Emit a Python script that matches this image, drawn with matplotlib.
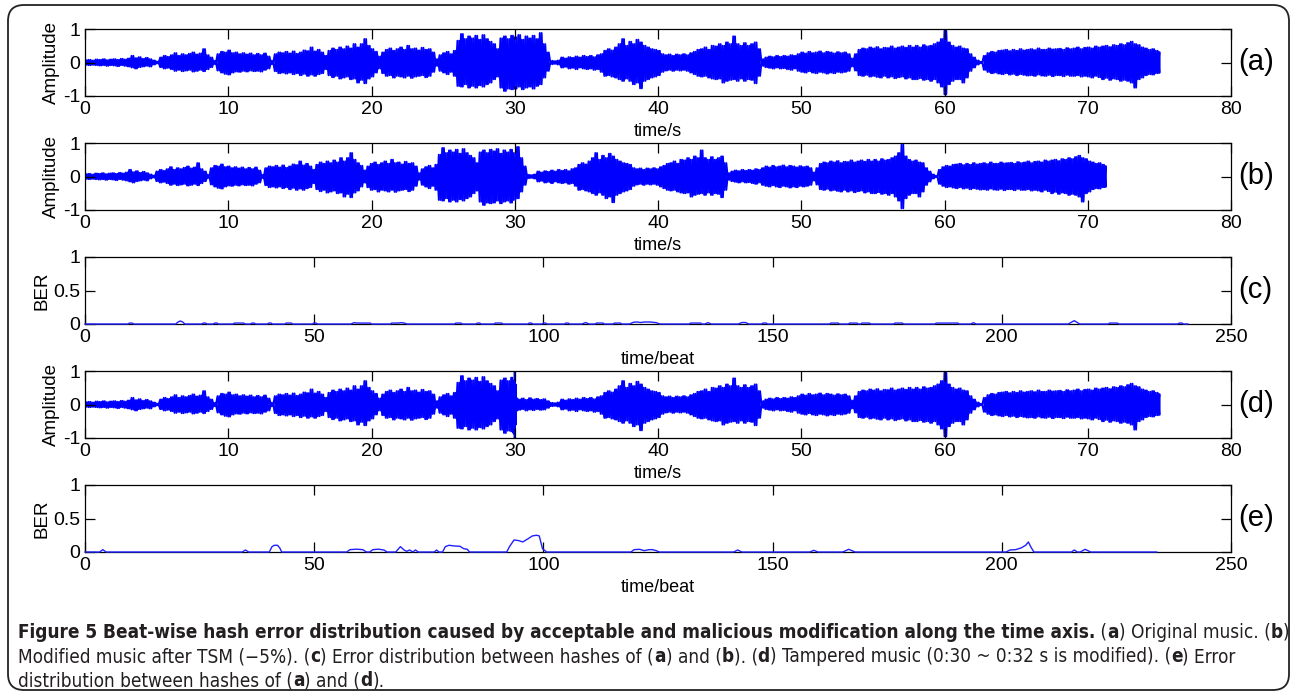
import numpy as np
import matplotlib
matplotlib.use("Agg")
import matplotlib.pyplot as plt
from matplotlib import font_manager
from matplotlib.patches import FancyBboxPatch
from matplotlib.transforms import IdentityTransform

# ---------------- data ----------------
# (a) original music: envelope sampled every 0.25 s from 0 to 75 s (upper / lower peaks)
wave_a_dt = 0.25
wave_a_hi = [
    .07, .08, .06, .09,  .08, .10, .07, .09,  .10, .08, .11, .09,  .12, .20, .13, .16,  .11, .14, .10, .06,
    .03, .15, .20, .17,  .22, .28, .20, .25,  .22, .26, .30, .24,  .27, .40, .22, .15,  .05, .25, .32, .30,
    .36, .28, .30, .25,  .28, .24, .27, .22,  .26, .22, .27, .18,  .05, .25, .30, .28,  .32, .27, .33, .26,
    .30, .36, .34, .45,  .33, .38, .30, .20,  .35, .42, .38, .45,  .40, .48, .42, .55,  .45, .55, .70, .50,
    .40, .32, .18, .30,  .38, .42, .35, .40,  .45, .38, .50, .40,  .42, .36, .44, .38,  .40, .30, .10, .22,
    .28, .32, .25, .35,  .65, .85, .70, .78,  .72, .80, .68, .82,  .70, .62, .55, .40,  .72, .78, .70, .80,
    .75, .82, .68, .78,  .72, .80, .70, .88,  .55, .30, .05, .04,  .06, .15, .12, .16,  .14, .18, .15, .20,
    .17, .20, .16, .22,  .25, .35, .40, .36,  .45, .55, .70, .50,  .62, .55, .68, .60,  .50, .45, .40, .38,
    .35, .25, .22, .24,  .20, .24, .22, .25,  .22, .28, .32, .38,  .40, .45, .38, .50,  .48, .55, .50, .60,
    .55, .78, .55, .50,  .58, .50, .55, .60,  .40, .10, .15, .18,  .16, .20, .17, .20,  .18, .22, .20, .25,
    .30, .27, .32, .28,  .30, .33, .28, .32,  .30, .27, .31, .28,  .30, .25, .12, .25,  .38, .42, .40, .45,
    .42, .46, .40, .44,  .43, .48, .42, .45,  .48, .44, .50, .45,  .50, .45, .52, .48,  .50, .55, .60, .70,
    .95, .60, .50, .45,  .48, .42, .40, .25,  .15, .06, .02, .20,  .28, .32, .30, .35,  .36, .38, .34, .38,
    .35, .40, .36, .38,  .40, .37, .42, .38,  .38, .42, .39, .40,  .41, .38, .43, .40,  .42, .45, .40, .44,
    .45, .42, .48, .45,  .48, .50, .46, .52,  .50, .55, .52, .58,  .62, .55, .52, .45,  .42, .38, .40, .35,
    .30]
wave_a_lo = [
    -.07, -.08, -.07, -.08,  -.09, -.08, -.10, -.08,  -.09, -.11, -.08, -.10,  -.12, -.15, -.18, -.14,  -.12, -.10, -.12, -.06,
    -.03, -.14, -.18, -.16,  -.20, -.25, -.22, -.26,  -.24, -.22, -.27, -.25,  -.22, -.26, -.20, -.14,  -.05, -.24, -.30, -.34,
    -.36, -.30, -.27, -.28,  -.25, -.27, -.24, -.26,  -.25, -.27, -.22, -.18,  -.05, -.26, -.32, -.30,  -.33, -.30, -.35, -.32,
    -.38, -.34, -.40, -.36,  -.40, -.35, -.32, -.20,  -.38, -.44, -.40, -.48,  -.45, -.42, -.50, -.48,  -.60, -.52, -.62, -.48,
    -.42, -.30, -.18, -.32,  -.40, -.38, -.45, -.40,  -.42, -.45, -.40, -.46,  -.42, -.40, -.38, -.44,  -.40, -.28, -.10, -.25,
    -.30, -.35, -.28, -.40,  -.70, -.72, -.65, -.75,  -.70, -.75, -.68, -.72,  -.65, -.60, -.50, -.42,  -.75, -.85, -.78, -.80,
    -.78, -.72, -.80, -.75,  -.72, -.78, -.70, -.65,  -.45, -.25, -.05, -.04,  -.06, -.15, -.13, -.18,  -.16, -.20, -.15, -.18,
    -.20, -.18, -.22, -.20,  -.28, -.40, -.38, -.42,  -.45, -.50, -.55, -.48,  -.55, -.65, -.60, -.77,  -.55, -.50, -.45, -.42,
    -.38, -.28, -.24, -.22,  -.25, -.22, -.24, -.22,  -.25, -.30, -.35, -.40,  -.42, -.40, -.45, -.48,  -.50, -.48, -.60, -.55,
    -.52, -.50, -.55, -.48,  -.55, -.50, -.52, -.62,  -.40, -.10, -.14, -.16,  -.18, -.15, -.18, -.17,  -.20, -.22, -.18, -.25,
    -.28, -.30, -.26, -.30,  -.32, -.28, -.30, -.33,  -.30, -.32, -.28, -.30,  -.28, -.25, -.12, -.24,  -.38, -.40, -.37, -.42,
    -.40, -.43, -.45, -.40,  -.45, -.42, -.47, -.44,  -.42, -.48, -.45, -.50,  -.50, -.47, -.52, -.50,  -.55, -.50, -.60, -.72,
    -.95, -.65, -.55, -.50,  -.50, -.60, -.45, -.25,  -.15, -.06, -.02, -.22,  -.28, -.32, -.30, -.33,  -.35, -.32, -.36, -.34,
    -.38, -.35, -.37, -.39,  -.38, -.40, -.36, -.39,  -.40, -.37, -.41, -.38,  -.38, -.41, -.37, -.40,  -.40, -.38, -.42, -.40,
    -.42, -.45, -.40, -.44,  -.50, -.46, -.52, -.48,  -.50, -.55, -.52, -.55,  -.60, -.75, -.50, -.45,  -.38, -.35, -.36, -.32,
    -.30]

# (b) modified music after TSM (-5 %): same envelope on a time axis shortened by the TSM rate
tsm_rate = 0.95

# (d) tampered music: the segment that differs from (a) (0:30 ~ 0:32 s is modified)
tamper_t = [29.9, 29.97, 30.0, 30.03, 30.1, 30.25, 30.5, 30.75, 31.0, 31.25, 31.5, 31.75, 32.0, 32.25]
tamper_hi = [0.70, 0.72, 1.00, 0.60, 0.18, 0.15, 0.18, 0.14, 0.19, 0.15, 0.17, 0.14, 0.16, 0.10]
tamper_lo = [-0.85, -0.88, -1.00, -0.60, -0.18, -0.16, -0.14, -0.18, -0.15, -0.17, -0.14, -0.16, -0.15, -0.10]

# (c) BER between hashes of (a) and (b)
ber_c_beat = [0, 9.4, 9.7, 10.3, 10.6, 19.8, 20.3, 20.8, 21.3, 21.8, 25.5, 25.8, 26.3, 26.6, 28.0, 28.3, 28.8, 29.1,
              32.3, 32.6, 34.6, 34.9, 36.1, 36.4, 36.9, 37.2, 39.8, 40.1, 40.6, 40.9, 43.6, 43.9, 45.0, 45.3,
              49.6, 49.9, 50.4, 50.7, 58.0, 58.7, 59.4, 59.7, 62.2, 62.5, 66.6, 66.9, 68.3, 69.0, 69.7, 70.2,
              80.6, 80.9, 82.0, 82.3, 85.3, 85.6, 86.1, 86.4, 89.2, 89.5, 90.9, 91.2, 96.6, 96.9, 97.4, 97.7,
              99.7, 100.0, 100.5, 100.8, 104.6, 104.9, 105.4, 105.7, 108.4, 109.2, 110.0, 111.3, 111.6, 113.0,
              113.3, 115.2, 115.5, 116.8, 117.1, 118.8, 119.6, 120.4, 121.2, 122.0, 123.2, 124.6, 125.4,
              131.8, 132.1, 134.3, 134.6, 135.2, 135.9, 136.6, 142.5, 143.3, 144.1, 144.8, 147.6, 147.9,
              148.6, 148.9, 162.4, 162.7, 164.3, 164.6, 166.5, 166.8, 168.4, 168.7, 169.2, 169.5, 171.1,
              171.4, 176.4, 176.7, 178.3, 178.6, 185.4, 185.7, 190.4, 190.7, 193.2, 193.8, 194.4, 214.5,
              215.8, 217.0, 223.2, 223.5, 225.2, 225.5, 238.4, 238.7, 239.3, 239.6, 240.6]
ber_c_val = [0, 0, 0.014, 0.014, 0, 0, 0.03, 0.045, 0.03, 0, 0, 0.014, 0.014, 0, 0, 0.014, 0.014, 0,
             0, 0.014, 0.014, 0, 0, 0.014, 0.014, 0, 0, 0.014, 0.014, 0, 0, 0.014, 0.014, 0,
             0, 0.014, 0.014, 0, 0, 0.02, 0.014, 0.014, 0.014, 0, 0, 0.014, 0.014, 0.02, 0.014, 0,
             0, 0.014, 0.014, 0, 0, 0.014, 0.014, 0, 0, 0.014, 0.014, 0, 0, 0.014, 0.014, 0,
             0, 0.014, 0.014, 0, 0, 0.014, 0.014, 0, 0, 0.022, 0, 0, 0.014, 0.014,
             0, 0, 0.014, 0.014, 0, 0, 0.025, 0.03, 0.022, 0.03, 0.03, 0.02, 0,
             0, 0.014, 0.014, 0, 0, 0.02, 0, 0, 0.022, 0.022, 0, 0, 0.014,
             0.014, 0, 0, 0.014, 0.014, 0, 0, 0.014, 0.014, 0, 0, 0.014, 0.014,
             0, 0, 0.014, 0.014, 0, 0, 0.014, 0.014, 0, 0, 0.02, 0, 0,
             0.05, 0, 0, 0.014, 0.014, 0, 0, 0.014, 0.014, 0, 0]

# (e) BER between hashes of (a) and (d)
ber_e_beat = [0, 3.2, 3.9, 4.6, 34.3, 35.0, 35.7, 40.2, 40.8, 41.3, 42.0, 42.5, 42.9,
              57.1, 57.8, 59.2, 60.6, 61.4, 62.1, 62.8, 64.0, 65.2, 65.9,
              67.8, 68.8, 69.6, 70.2, 70.8, 71.5, 72.1, 72.7, 76.2, 76.7, 77.2,
              78.0, 78.6, 79.4, 80.6, 81.8, 82.6, 83.4, 83.9,
              92.0, 92.6, 93.6, 94.6, 95.5, 96.7, 97.6, 98.5, 99.1, 99.8, 100.7,
              119.1, 119.8, 121.0, 122.0, 123.0, 123.8, 124.6, 125.3,
              141.5, 142.4, 143.3, 158.1, 159.0, 159.9, 165.3, 166.6, 168.0,
              200.9, 201.8, 203.0, 204.2, 205.2, 205.8, 206.3, 207.0,
              215.2, 215.8, 216.5, 217.1, 218.2, 219.4, 233.8]
ber_e_val = [0, 0, 0.035, 0, 0, 0.03, 0, 0, 0.08, 0.10, 0.10, 0.06, 0,
             0, 0.035, 0.042, 0.035, 0, 0, 0.035, 0.042, 0.03, 0,
             0, 0.08, 0.03, 0.01, 0.03, 0, 0.03, 0, 0, 0.03, 0,
             0, 0.08, 0.10, 0.09, 0.085, 0.05, 0.04, 0,
             0, 0.08, 0.18, 0.17, 0.15, 0.20, 0.24, 0.25, 0.24, 0.05, 0,
             0, 0.035, 0.04, 0.02, 0.035, 0.035, 0.02, 0,
             0, 0.03, 0, 0, 0.025, 0, 0, 0.04, 0,
             0, 0.03, 0.035, 0.06, 0.10, 0.15, 0.08, 0,
             0, 0.03, 0, 0, 0.04, 0, 0]

wave_xticks = [0, 10, 20, 30, 40, 50, 60, 70, 80]
wave_yticks = [-1, 0, 1]
ber_xticks = [0, 50, 100, 150, 200, 250]
ber_yticks = [0, 0.5, 1]
ber_yticklabels = ["0", "0.5", "1"]
panel_tags = ["(a)", "(b)", "(c)", "(d)", "(e)"]

caption_lines = [
    [("Figure 5 Beat-wise hash error distribution caused by acceptable and malicious modification along the time axis.", True),
     (" (", False), ("a", True), (") Original music. (", False), ("b", True), (")", False)],
    [("Modified music after TSM (\u22125%). (", False), ("c", True), (") Error distribution between hashes of (", False),
     ("a", True), (") and (", False), ("b", True), ("). (", False), ("d", True),
     (") Tampered music (0:30 ~ 0:32 s is modified). (", False), ("e", True), (") Error", False)],
    [("distribution between hashes of (", False), ("a", True), (") and (", False), ("d", True), (").", False)],
]

# ---------------- figure ----------------
W, H = 1293, 694
plt.rcParams['font.family'] = ['Liberation Sans', 'DejaVu Sans']
plt.rcParams['axes.unicode_minus'] = False
fig = plt.figure(figsize=(W / 100, H / 100), dpi=100)

LEFT, RIGHT = 85, 1231
bottoms = [96, 210, 324, 438, 552]
AX_H = 67
BLUE = '#0000ff'


def make_ax(i):
    b = bottoms[i]
    ax = fig.add_axes([LEFT / W, 1 - b / H, (RIGHT - LEFT) / W, AX_H / H])
    ax.tick_params(direction='in', top=True, right=True, length=7, width=0.9,
                   labelsize=14, pad=3.5, colors='black')
    for s in ax.spines.values():
        s.set_linewidth(0.9)
    ax.text(1.006, 0.5, panel_tags[i], transform=ax.transAxes, fontsize=21,
            va='center', ha='left')
    return ax


def wave_panel(i, t, hi, lo):
    ax = make_ax(i)
    t = np.asarray(t, float)
    hi = np.asarray(hi, float)
    lo = np.asarray(lo, float)
    # waveform drawn as two interleaved oscillations between the read upper/lower peaks
    mid = np.append((t[:-1] + t[1:]) / 2, t[-1])
    tz = np.column_stack([t, mid]).ravel()
    ax.plot(tz, np.column_stack([hi, lo]).ravel(), color=BLUE, lw=1.4, zorder=1)
    ax.plot(tz, np.column_stack([lo, hi]).ravel(), color=BLUE, lw=1.4, zorder=1)
    ax.set_xlim(0, 80)
    ax.set_ylim(-1, 1)
    ax.set_xticks(wave_xticks)
    ax.set_yticks(wave_yticks)
    ax.set_ylabel('Amplitude', fontsize=13.5, labelpad=2)
    ax.set_xlabel('time/s', fontsize=13, labelpad=4)
    return ax


def ber_panel(i, beat, val):
    ax = make_ax(i)
    ax.plot(beat, val, color='#2020ff', lw=1.0, zorder=3, clip_on=False)
    ax.set_xlim(0, 250)
    ax.set_ylim(0, 1)
    ax.set_xticks(ber_xticks)
    ax.set_yticks(ber_yticks)
    ax.set_yticklabels(ber_yticklabels)
    ax.set_ylabel('BER', fontsize=13.5, labelpad=2)
    ax.set_xlabel('time/beat', fontsize=13, labelpad=4)
    return ax


a_hi = np.array(wave_a_hi)
a_lo = np.array(wave_a_lo)
a_t = np.arange(len(a_hi)) * wave_a_dt
b_t = a_t * tsm_rate

# (d) = original with tampered segment spliced in
keep = (a_t < tamper_t[0]) | (a_t > tamper_t[-1])
d_t = np.concatenate([a_t[keep], tamper_t])
order = np.argsort(d_t, kind='stable')
d_hi = np.concatenate([a_hi[keep], tamper_hi])[order]
d_lo = np.concatenate([a_lo[keep], tamper_lo])[order]
d_t = d_t[order]

wave_panel(0, a_t, a_hi, a_lo)
wave_panel(1, b_t, a_hi, a_lo)
ber_panel(2, ber_c_beat, ber_c_val)
wave_panel(3, d_t, d_hi, d_lo)
ber_panel(4, ber_e_beat, ber_e_val)

# rounded frame
frame = FancyBboxPatch((8, 4), 1281, 685, boxstyle="round,pad=0,rounding_size=16",
                       transform=IdentityTransform(), facecolor='none', edgecolor='#222222',
                       linewidth=1.3)
fig.add_artist(frame)

# caption with mixed bold / normal runs (condensed face if available)
renderer = fig.canvas.get_renderer()
names = {f.name for f in font_manager.fontManager.ttflist}
cap_kw = {'family': 'Liberation Sans'}
if 'Liberation Sans Narrow' in names:
    cap_kw = {'family': 'Liberation Sans Narrow'}
elif any(f.name == 'DejaVu Sans' and str(f.stretch) in ('condensed', '500')
         for f in font_manager.fontManager.ttflist if 'Condensed' in f.fname):
    cap_kw = {'family': 'DejaVu Sans', 'stretch': 'condensed'}
CAP_COLOR = '#231f20'


def run_width(text, bold, size):
    t = fig.text(0, 0, text.replace(' ', '\u00a0'), fontsize=size,
                 fontweight='bold' if bold else 'normal', **cap_kw)
    w = t.get_window_extent(renderer).width
    t.remove()
    return w


target = 1283 - 18
base = 12.0
w0 = sum(run_width(s, b, base) for s, b in caption_lines[0])
cap_size = base * target / w0

cap_y = [632, 657, 681]
for line, yc in zip(caption_lines, cap_y):
    x = 18
    for s, b in line:
        txt = s.replace(' ', '\u00a0')
        t = fig.text(x / W, 1 - yc / H, txt, fontsize=cap_size,
                     fontweight='bold' if b else 'normal', va='center', ha='left',
                     color=CAP_COLOR, **cap_kw)
        x += t.get_window_extent(renderer).width

fig.savefig('out.png', dpi=100)
